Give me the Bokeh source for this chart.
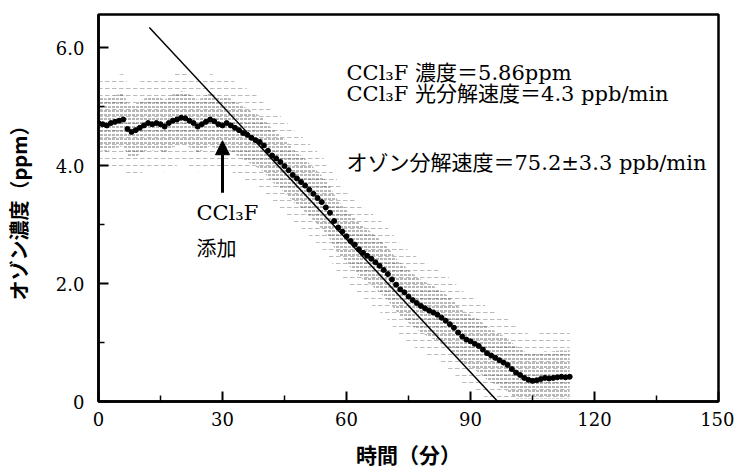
from bokeh.plotting import figure
from bokeh.models import FixedTicker, Arrow, NormalHead, Label, Range1d
from bokeh.embed import file_html
from bokeh.resources import INLINE

# ---- data ----
time_min = list(range(0, 115))
ozone_ppm = [4.72, 4.70, 4.68, 4.72, 4.74, 4.76, 4.78, 4.62, 4.57, 4.60,
             4.64, 4.68, 4.72, 4.70, 4.72, 4.70, 4.66, 4.72, 4.76, 4.78,
             4.81, 4.80, 4.76, 4.72, 4.66, 4.70, 4.74, 4.78, 4.75, 4.70,
             4.68, 4.72, 4.68, 4.64, 4.60, 4.55, 4.52, 4.47, 4.43, 4.40,
             4.34, 4.25, 4.17, 4.12, 4.06, 3.99, 3.92, 3.84, 3.78, 3.72,
             3.66, 3.59, 3.52, 3.45, 3.38, 3.29, 3.20, 3.06, 2.95, 2.88,
             2.80, 2.72, 2.66, 2.58, 2.52, 2.47, 2.42, 2.36, 2.30, 2.23,
             2.16, 2.07, 1.98, 1.90, 1.85, 1.78, 1.72, 1.67, 1.62, 1.58,
             1.54, 1.51, 1.47, 1.42, 1.37, 1.31, 1.25, 1.17, 1.10, 1.05,
             1.02, 0.98, 0.94, 0.88, 0.82, 0.78, 0.74, 0.70, 0.66, 0.62,
             0.55, 0.49, 0.45, 0.40, 0.37, 0.35, 0.36, 0.38, 0.40, 0.39,
             0.40, 0.41, 0.42, 0.41, 0.42]
noise_inner_ppm = 0.45
noise_outer_ppm = 0.78

fit_rate_ppb_per_min = 75.2
fit_start_min = 12.3
fit_zero_min = 96.6
addition_time_min = 30

x_ticks = [0, 30, 60, 90, 120, 150]
y_ticks = [0, 2, 4, 6]
y_tick_labels = {0: "0", 2: "2.0", 4: "4.0", 6: "6.0"}

annot_lines = ["CCl₃F 濃度＝5.86ppm",
               "CCl₃F 光分解速度＝4.3 ppb/min",
               "オゾン分解速度＝75.2±3.3 ppb/min"]

SERIF = "DejaVu Serif, Noto Sans CJK JP"
GOTHIC = "Noto Sans CJK JP"

p = figure(width=734, height=472, x_range=Range1d(0, 150), y_range=Range1d(0, 6.56),
           output_backend="svg", toolbar_location=None,
           min_border_left=97, min_border_right=16, min_border_top=14, min_border_bottom=71)
p.grid.visible = False
p.background_fill_color = "white"
p.border_fill_color = "white"
p.outline_line_color = "black"
p.outline_line_width = 2.5
p.outline_line_alpha = 1

# noise bands (horizontal dashes)
outer_hi = [v + noise_outer_ppm for v in ozone_ppm]
outer_lo = [max(v - noise_outer_ppm, 0.05) for v in ozone_ppm]
inner_hi = [v + noise_inner_ppm for v in ozone_ppm]
inner_lo = [max(v - noise_inner_ppm, 0.05) for v in ozone_ppm]
p.varea(x=time_min, y1=outer_lo, y2=outer_hi, fill_alpha=0,
        hatch_pattern="horizontal_dash", hatch_color="#777777", hatch_alpha=0.5,
        hatch_scale=7, hatch_weight=1)
p.varea(x=time_min, y1=inner_lo, y2=inner_hi, fill_alpha=0,
        hatch_pattern="horizontal_dash", hatch_color="#333333", hatch_alpha=0.7,
        hatch_scale=4, hatch_weight=1)

# regression line
fit_t = [fit_start_min, fit_zero_min]
fit_y = [fit_rate_ppb_per_min / 1000 * (fit_zero_min - t) for t in fit_t]
p.line(fit_t, fit_y, line_color="black", line_width=1.5)

# measured points
p.scatter(time_min, ozone_ppm, size=5, color="black")

# arrow for CCl3F addition
p.add_layout(Arrow(end=NormalHead(size=14, fill_color="black", line_color="black"),
                   x_start=addition_time_min, y_start=3.54,
                   x_end=addition_time_min, y_end=4.42,
                   line_width=3, line_color="black"))
p.add_layout(Label(x=23.7, y=3.2, text="CCl₃F", text_font=SERIF, text_font_size="21px",
                   text_baseline="middle", text_color="black"))
p.add_layout(Label(x=23.7, y=2.58, text="添加", text_font=SERIF, text_font_size="20px",
                   text_baseline="middle", text_color="black"))

for txt, yy in zip(annot_lines, [5.56, 5.22, 4.04]):
    p.add_layout(Label(x=60, y=yy, text=txt, text_font=SERIF, text_font_size="21px",
                       text_baseline="middle", text_color="black"))

# axes
for ax in (p.xaxis, p.yaxis):
    ax.axis_line_width = 2.5
    ax.axis_line_color = "black"
    ax.major_tick_in = 10
    ax.major_tick_out = 0
    ax.minor_tick_in = 6
    ax.minor_tick_out = 0
    ax.major_tick_line_width = 2
    ax.minor_tick_line_width = 1.5
    ax.major_label_text_font = SERIF
    ax.major_label_text_font_size = "18px"
    ax.major_label_text_color = "black"
    ax.axis_label_text_font = GOTHIC
    ax.axis_label_text_font_style = "bold"
    ax.axis_label_text_color = "black"

p.xaxis.axis_label_text_font_size = "21px"
p.yaxis.axis_label_text_font_size = "20px"
p.xaxis.ticker = FixedTicker(ticks=x_ticks, minor_ticks=[t + 15 for t in x_ticks[:-1]])
p.yaxis.ticker = FixedTicker(ticks=y_ticks, minor_ticks=[t + 1 for t in y_ticks[:-1]])
p.yaxis.major_label_overrides = y_tick_labels
p.xaxis.major_label_standoff = 10
p.yaxis.major_label_standoff = 14
p.xaxis.axis_label = "時間（分）"
p.yaxis.axis_label = "オゾン濃度（ppm）"
p.xaxis.axis_label_standoff = 10
p.yaxis.axis_label_standoff = 20

open("out.html", "w").write(file_html(p, INLINE))
